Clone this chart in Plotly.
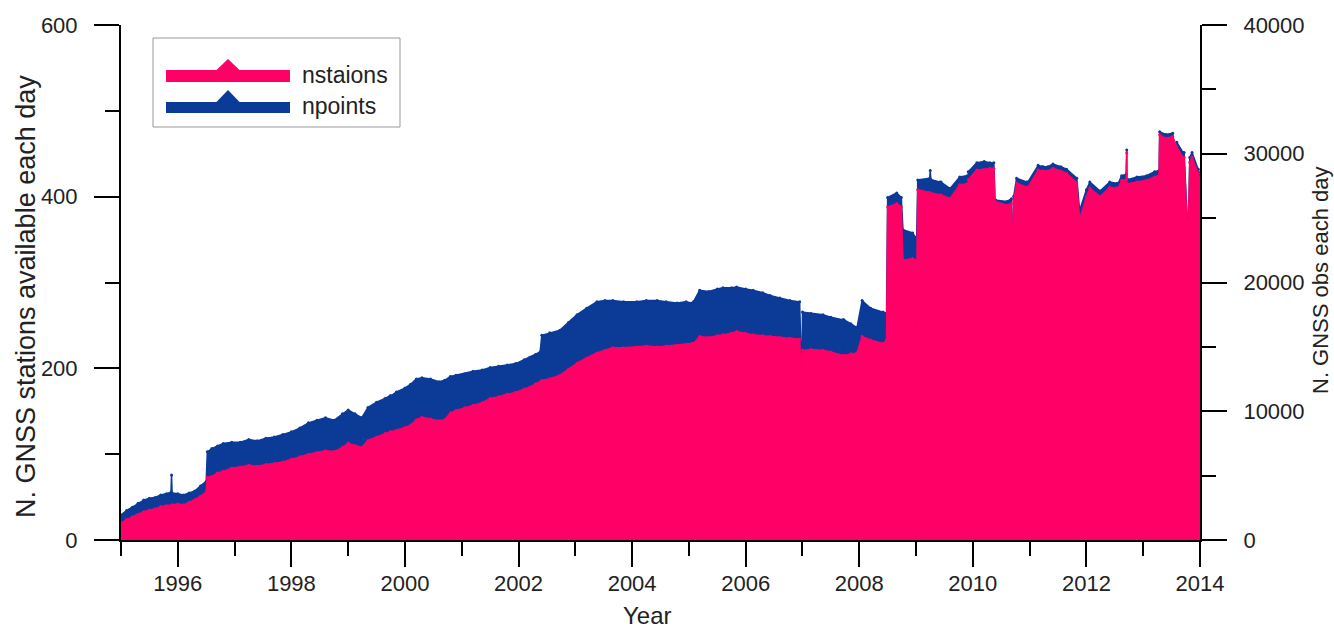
import plotly.graph_objects as go

# ---- data (decimal years) ----
years_st = [1995.00, 1995.10, 1995.20, 1995.30, 1995.40, 1995.50, 1995.60, 1995.70, 1995.80, 1995.90,
            1996.00, 1996.10, 1996.20, 1996.30, 1996.40, 1996.50, 1996.52, 1996.60, 1996.70, 1996.80,
            1996.95, 1997.10, 1997.25, 1997.40, 1997.55, 1997.70, 1997.85, 1998.00, 1998.15, 1998.30,
            1998.45, 1998.60, 1998.75, 1998.90, 1999.00, 1999.12, 1999.24, 1999.35, 1999.50, 1999.65,
            1999.74, 1999.748, 1999.756, 1999.85, 2000.00, 2000.10, 2000.20, 2000.30, 2000.45, 2000.60,
            2000.70, 2000.80, 2000.90, 2001.05, 2001.20, 2001.36, 2001.50, 2001.65, 2001.80, 2001.95,
            2002.10, 2002.20, 2002.30, 2002.41, 2002.55, 2002.73, 2002.88, 2003.03, 2003.20, 2003.38,
            2003.52, 2003.66, 2003.85, 2004.08, 2004.25, 2004.44, 2004.60, 2004.79, 2004.95, 2005.06,
            2005.07, 2005.08, 2005.19, 2005.35, 2005.50, 2005.60, 2005.75, 2005.84, 2006.00, 2006.13,
            2006.30, 2006.43, 2006.60, 2006.78, 2006.95, 2006.99, 2007.00, 2007.15, 2007.36, 2007.50,
            2007.71, 2007.72, 2007.73, 2007.85, 2007.96, 2008.05, 2008.20, 2008.42, 2008.48, 2008.50,
            2008.66, 2008.74, 2008.77, 2008.94, 2008.99, 2009.00, 2009.03, 2009.24, 2009.42, 2009.43,
            2009.44, 2009.60, 2009.77, 2009.90, 2009.91, 2009.92, 2010.07, 2010.20, 2010.30, 2010.37,
            2010.39, 2010.395, 2010.40, 2010.60, 2010.68, 2010.70, 2010.72, 2010.77, 2010.95, 2010.96,
            2010.97, 2011.15, 2011.22, 2011.23, 2011.24, 2011.32, 2011.41, 2011.55, 2011.65, 2011.83,
            2011.88, 2012.00, 2012.06, 2012.24, 2012.41, 2012.54, 2012.55, 2012.56, 2012.62, 2012.70,
            2012.71, 2012.72, 2012.73, 2012.89, 2013.06, 2013.20, 2013.28, 2013.29, 2013.40, 2013.52,
            2013.59, 2013.70, 2013.71, 2013.72, 2013.79, 2013.82, 2013.86, 2013.97, 2014.00]
n_stations = [20, 24, 27, 30, 33, 35, 36, 39, 40, 41,
              42, 41, 44, 47, 51, 56, 73, 74, 78, 80,
              84, 85, 87, 86, 88, 89, 91, 94, 97, 100,
              102, 104, 103, 108, 113, 110, 108, 116, 120, 124,
              126, 55, 126, 128, 131, 134, 140, 143, 141, 139,
              140, 148, 151, 154, 157, 160, 165, 167, 170, 172,
              176, 178, 182, 186, 188, 192, 199, 206, 212, 218,
              221, 224, 224, 225, 226, 225, 226, 227, 228, 229,
              200, 229, 237, 236, 238, 239, 241, 243, 241, 239,
              238, 237, 236, 235, 234, 178, 221, 222, 221, 219,
              215, 196, 215, 217, 218, 237, 233, 229, 233, 388,
              392, 388, 326, 328, 326, 240, 408, 405, 402, 341,
              402, 398, 414, 415, 353, 420, 431, 432, 433, 433,
              394, 245, 394, 390, 392, 315, 395, 416, 411, 264,
              411, 431, 430, 262, 430, 430, 433, 430, 427, 416,
              373, 400, 410, 400, 411, 410, 273, 410, 419, 420,
              451, 290, 415, 417, 419, 423, 425, 472, 468, 470,
              458, 446, 290, 446, 347, 440, 446, 427, 420]

years_obs = [1995.00, 1995.10, 1995.20, 1995.30, 1995.40, 1995.50, 1995.60, 1995.70, 1995.80, 1995.88,
             1995.89, 1995.90, 1996.00, 1996.10, 1996.20, 1996.30, 1996.40, 1996.50, 1996.52, 1996.60,
             1996.70, 1996.80, 1996.95, 1997.10, 1997.25, 1997.40, 1997.55, 1997.70, 1997.85, 1998.00,
             1998.15, 1998.30, 1998.45, 1998.60, 1998.75, 1998.90, 1999.00, 1999.12, 1999.24, 1999.35,
             1999.50, 1999.65, 1999.74, 1999.748, 1999.756, 1999.85, 2000.00, 2000.10, 2000.20, 2000.30,
             2000.45, 2000.60, 2000.70, 2000.80, 2000.90, 2001.05, 2001.20, 2001.36, 2001.50, 2001.65,
             2001.80, 2001.95, 2002.10, 2002.20, 2002.30, 2002.38, 2002.41, 2002.55, 2002.73, 2002.88,
             2003.03, 2003.20, 2003.38, 2003.52, 2003.66, 2003.85, 2004.08, 2004.25, 2004.44, 2004.60,
             2004.79, 2004.95, 2005.06, 2005.07, 2005.08, 2005.19, 2005.35, 2005.50, 2005.60, 2005.75,
             2005.84, 2006.00, 2006.13, 2006.30, 2006.43, 2006.60, 2006.78, 2006.95, 2006.99, 2007.00,
             2007.15, 2007.36, 2007.50, 2007.71, 2007.72, 2007.73, 2007.85, 2007.96, 2008.05, 2008.20,
             2008.42, 2008.48, 2008.50, 2008.66, 2008.74, 2008.77, 2008.94, 2008.99, 2009.00, 2009.03,
             2009.24, 2009.25, 2009.26, 2009.42, 2009.43, 2009.44, 2009.60, 2009.77, 2009.90, 2009.91,
             2009.92, 2010.07, 2010.20, 2010.30, 2010.37, 2010.39, 2010.395, 2010.40, 2010.60, 2010.68,
             2010.70, 2010.72, 2010.77, 2010.95, 2010.96, 2010.97, 2011.15, 2011.22, 2011.23, 2011.24,
             2011.32, 2011.41, 2011.55, 2011.65, 2011.83, 2011.88, 2012.00, 2012.06, 2012.24, 2012.41,
             2012.54, 2012.55, 2012.56, 2012.62, 2012.70, 2012.71, 2012.72, 2012.73, 2012.89, 2013.06,
             2013.20, 2013.28, 2013.29, 2013.40, 2013.52, 2013.58, 2013.59, 2013.70, 2013.71, 2013.72,
             2013.79, 2013.82, 2013.86, 2013.97, 2014.00]
n_obs = [1950, 2300, 2550, 2850, 3100, 3250, 3300, 3500, 3600, 3700,
         5050, 3650, 3600, 3500, 3650, 3800, 4200, 4550, 6850, 7100,
         7300, 7500, 7600, 7600, 7800, 7700, 7900, 8000, 8200, 8400,
         8700, 9100, 9300, 9500, 9300, 9800, 10100, 9800, 9500, 10300,
         10700, 11000, 11200, 3650, 11200, 11500, 11800, 12100, 12500, 12600,
         12500, 12300, 12400, 12700, 12800, 12900, 13100, 13200, 13400, 13500,
         13600, 13700, 14000, 14200, 14400, 14600, 15900, 16100, 16300, 16900,
         17500, 18000, 18500, 18600, 18600, 18500, 18500, 18600, 18600, 18500,
         18400, 18500, 18400, 15800, 18500, 19400, 19300, 19500, 19600, 19600,
         19650, 19500, 19400, 19200, 19000, 18800, 18600, 18500, 12000, 17700,
         17600, 17500, 17300, 17100, 14500, 17100, 16800, 16500, 18600, 18000,
         17700, 17600, 26600, 26950, 26600, 24100, 23850, 23500, 20970, 27960,
         28100, 28700, 28000, 27800, 23000, 27800, 27300, 28200, 28300, 24000,
         28600, 29300, 29400, 29300, 29300, 26400, 16500, 26400, 26300, 26500,
         21500, 26700, 28100, 27800, 18000, 27800, 29100, 29000, 18000, 29000,
         29000, 29200, 29000, 28800, 28100, 25600, 27200, 27800, 27100, 27800,
         27700, 22500, 27700, 28300, 28400, 30300, 20000, 28000, 28200, 28300,
         28600, 28700, 31700, 31500, 31600, 26000, 30900, 30100, 20000, 30100,
         23500, 29700, 30100, 28800, 28400]

series_names = ["nstaions", "npoints"]
x_title = "Year"
y_left_title = "N. GNSS stations available each day"
y_right_title = "N. GNSS obs each day"

pink = "#FF0066"
blue = "#0B3A97"
font_family = "Arial, Liberation Sans, sans-serif"

# the page's body margin is removed (post_script), so the figure fills the window exactly
PLOT_L, PLOT_R, PLOT_T, PLOT_B = 121, 1200, 25, 540
FIG_W, FIG_H = 1334, 628


def px(x):
    return (x - PLOT_L) / (PLOT_R - PLOT_L)


def py(y):
    return (PLOT_B - y) / (PLOT_B - PLOT_T)


fig = go.Figure()

# npoints (right axis) on the primary y so it is drawn beneath
fig.add_trace(go.Scatter(x=years_obs, y=n_obs, mode="lines+markers", fill="tozeroy", name=series_names[1],
                         line=dict(color=blue, width=1.5), fillcolor=blue,
                         marker=dict(color=blue, size=3),
                         yaxis="y", showlegend=False))
# nstaions (left axis) on overlaying y2, drawn on top
fig.add_trace(go.Scatter(x=years_st, y=n_stations, mode="lines+markers", fill="tozeroy", name=series_names[0],
                         line=dict(color=pink, width=1.5), fillcolor=pink,
                         marker=dict(color=pink, size=3),
                         yaxis="y2", showlegend=False))

axis_common = dict(showline=True, linecolor="black", linewidth=2, ticks="outside",
                   tickcolor="black", tickwidth=2, ticklen=25, showgrid=False, zeroline=False,
                   tickfont=dict(size=22, color="#222", family=font_family))

# legend drawn as a box with bar+triangle symbols
shapes = [dict(type="rect", xref="paper", yref="paper", x0=px(153), x1=px(400), y0=py(127), y1=py(38),
               line=dict(color="#999", width=1), fillcolor="white", layer="above")]
annotations = []
legend_rows = [(series_names[0], pink, 70, 82, 59), (series_names[1], blue, 102, 113, 90)]
for name, col, ytop, ybot, yapex in legend_rows:
    shapes.append(dict(type="rect", xref="paper", yref="paper", x0=px(166), x1=px(290),
                       y0=py(ybot), y1=py(ytop), line=dict(width=0), fillcolor=col, layer="above"))
    shapes.append(dict(type="path", xref="paper", yref="paper",
                       path=f"M{px(216)},{py(ytop + 0.5)} L{px(228)},{py(yapex)} L{px(240)},{py(ytop + 0.5)} Z",
                       line=dict(width=0), fillcolor=col, layer="above"))
    annotations.append(dict(xref="paper", yref="paper", x=px(300), y=py((ytop + ybot) / 2 - 1),
                            xanchor="left", yanchor="middle", text=name, showarrow=False,
                            font=dict(size=23, color="#222", family=font_family)))

# axis titles
annotations.append(dict(xref="paper", yref="paper", x=px(647), y=py(615), xanchor="center", yanchor="middle",
                        text=x_title, showarrow=False, font=dict(size=24, color="#222", family=font_family)))
annotations.append(dict(xref="paper", yref="paper", x=px(26), y=py(297), xanchor="center", yanchor="middle",
                        text=y_left_title, textangle=-90, showarrow=False,
                        font=dict(size=27, color="#222", family=font_family)))
annotations.append(dict(xref="paper", yref="paper", x=px(1320), y=py(281), xanchor="center", yanchor="middle",
                        text=y_right_title, textangle=-90, showarrow=False,
                        font=dict(size=22, color="#222", family=font_family)))

fig.update_layout(
    width=FIG_W, height=FIG_H,
    margin=dict(l=PLOT_L, r=FIG_W - PLOT_R, t=PLOT_T, b=FIG_H - PLOT_B, autoexpand=False),
    paper_bgcolor="white", plot_bgcolor="white",
    font=dict(family=font_family, color="#222"),
    showlegend=False,
    xaxis=dict(range=[1995, 2014], tick0=1996, dtick=2,
               minor=dict(dtick=1, tick0=1995, ticks="outside", ticklen=14, tickwidth=2, tickcolor="black"),
               ticklabelstandoff=-2, **axis_common),
    yaxis=dict(range=[0, 40000], side="right", dtick=10000, anchor="x", tickformat="d",
               minor=dict(dtick=5000, ticks="outside", ticklen=14, tickwidth=2, tickcolor="black"),
               ticklabelstandoff=12, **axis_common),
    yaxis2=dict(range=[0, 600], side="left", dtick=200, overlaying="y", anchor="x",
                minor=dict(dtick=100, ticks="outside", ticklen=14, tickwidth=2, tickcolor="black"),
                ticklabelstandoff=12, **axis_common),
    shapes=shapes,
    annotations=annotations,
)

fig.write_html("out.html", config={"displayModeBar": False},
               post_script="document.body.style.margin='0';document.body.style.overflow='hidden';")
